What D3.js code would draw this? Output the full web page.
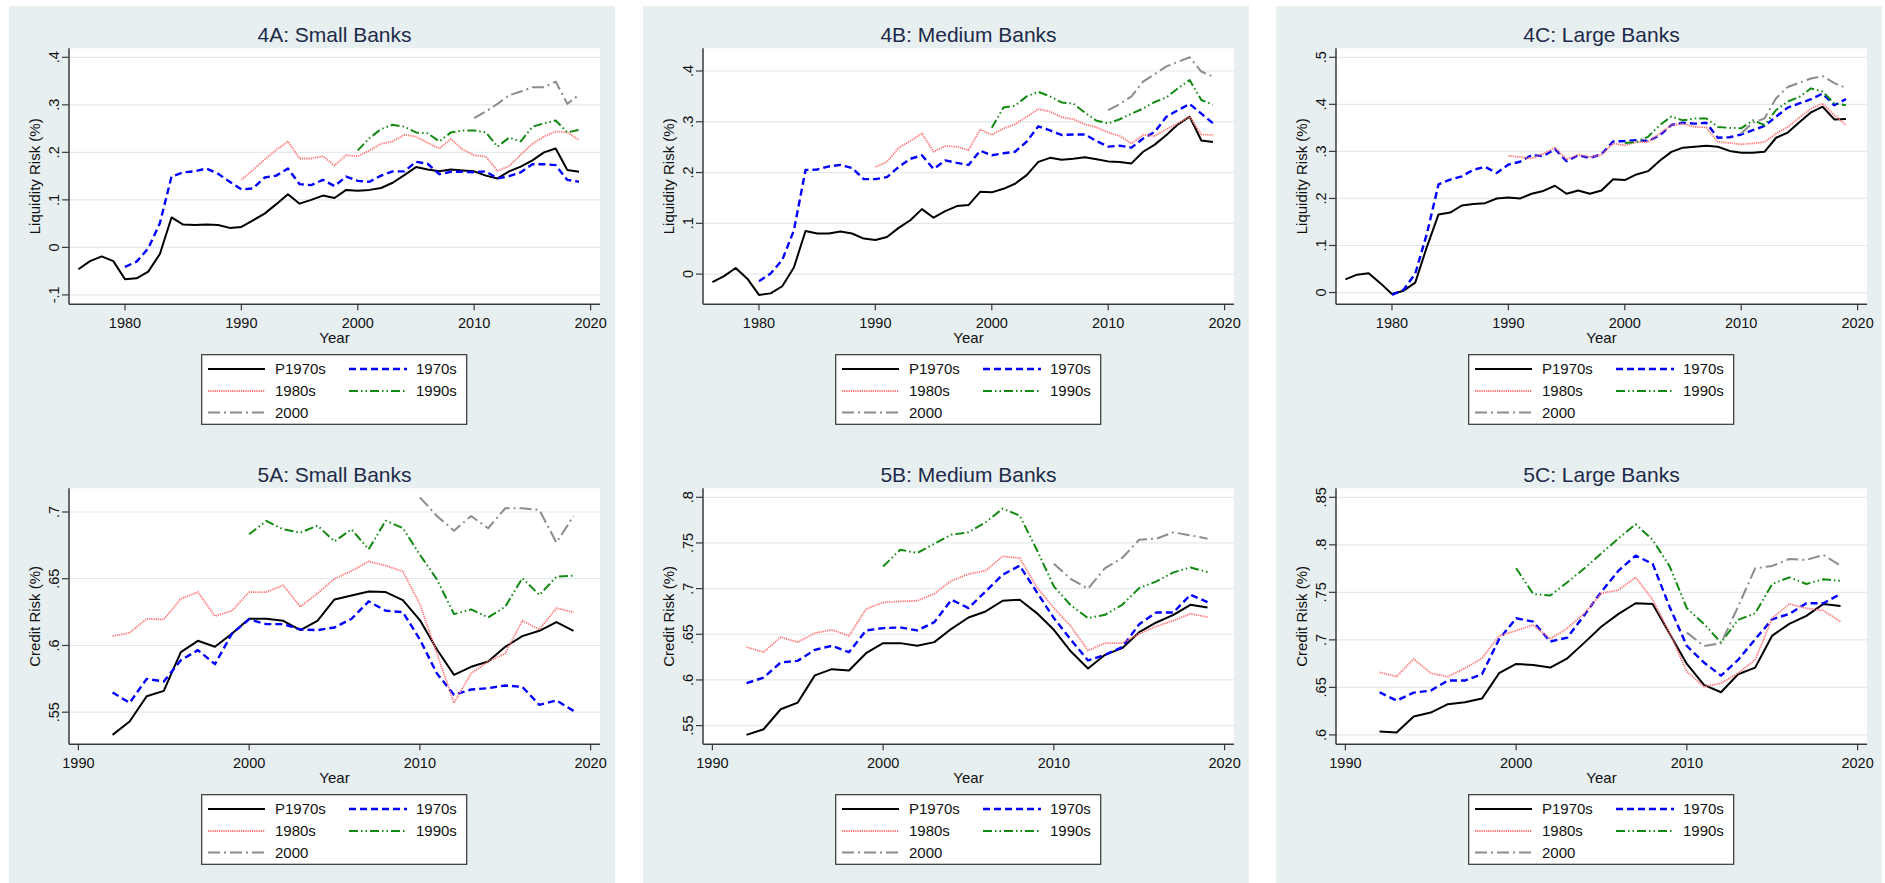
<!DOCTYPE html>
<html>
<head>
<meta charset="utf-8">
<script src="https://cdn.jsdelivr.net/npm/d3@7"></script>
<style>
  html, body { margin: 0; padding: 0; background: #ffffff; }
  svg { display: block; font-family: "Liberation Sans", Arial, Helvetica, sans-serif; }
</style>
</head>
<body>
<svg id="chart" width="1885" height="883"></svg>
<script>
// ---- Series labels and year ranges ----
const seriesNames = ["P1970s", "1970s", "1980s", "1990s", "2000"];
const liqStartYears = [1976, 1980, 1990, 2000, 2010];
const credStartYears = [1992, 1992, 1992, 2000, 2010];

// ---- Tick values ----
const liqYearTicks = [1980, 1990, 2000, 2010, 2020];
const credYearTicks = [1990, 2000, 2010, 2020];
const liqSmallTicks = [-0.1, 0, 0.1, 0.2, 0.3, 0.4];
const liqMediumTicks = [0, 0.1, 0.2, 0.3, 0.4];
const liqLargeTicks = [0, 0.1, 0.2, 0.3, 0.4, 0.5];
const credSmallTicks = [0.55, 0.6, 0.65, 0.7];
const credMediumTicks = [0.55, 0.6, 0.65, 0.7, 0.75, 0.8];
const credLargeTicks = [0.6, 0.65, 0.7, 0.75, 0.8, 0.85];

// ---- Liquidity risk, small banks ----
const liqSmallP1970s = [-0.046,-0.029,-0.019,-0.029,-0.067,-0.065,-0.051,-0.014,0.063,0.048,0.047,0.048,0.047,0.041,0.043,0.057,0.071,0.091,0.112,0.092,0.100,0.109,0.104,0.121,0.119,0.121,0.125,0.136,0.152,0.169,0.164,0.160,0.164,0.162,0.160,0.151,0.145,0.160,0.170,0.183,0.200,0.208,0.163,0.159];
const liqSmall1970s = [-0.041,-0.030,-0.002,0.051,0.149,0.158,0.160,0.166,0.155,0.138,0.122,0.124,0.147,0.151,0.166,0.133,0.131,0.142,0.129,0.149,0.140,0.138,0.151,0.160,0.160,0.180,0.176,0.154,0.159,0.159,0.158,0.160,0.145,0.150,0.158,0.175,0.175,0.173,0.142,0.138];
const liqSmall1980s = [0.142,0.163,0.185,0.205,0.223,0.187,0.187,0.192,0.172,0.194,0.192,0.204,0.218,0.223,0.237,0.233,0.220,0.208,0.228,0.206,0.194,0.191,0.161,0.171,0.195,0.218,0.233,0.244,0.242,0.226];
const liqSmall1990s = [0.204,0.230,0.249,0.258,0.254,0.242,0.240,0.223,0.242,0.246,0.246,0.242,0.212,0.231,0.223,0.254,0.261,0.267,0.242,0.247];
const liqSmall2000 = [0.272,0.286,0.302,0.320,0.328,0.337,0.337,0.349,0.302,0.321];

// ---- Liquidity risk, medium banks ----
const liqMediumP1970s = [-0.016,-0.004,0.012,-0.009,-0.041,-0.038,-0.024,0.013,0.085,0.080,0.080,0.084,0.080,0.070,0.067,0.073,0.091,0.106,0.128,0.111,0.124,0.134,0.136,0.162,0.161,0.168,0.178,0.195,0.221,0.229,0.225,0.227,0.230,0.226,0.222,0.221,0.218,0.241,0.255,0.274,0.295,0.310,0.263,0.260];
const liqMedium1970s = [-0.014,0.001,0.028,0.086,0.205,0.206,0.212,0.215,0.209,0.187,0.187,0.191,0.211,0.227,0.234,0.207,0.224,0.219,0.215,0.243,0.234,0.238,0.241,0.261,0.291,0.283,0.274,0.275,0.275,0.262,0.251,0.253,0.249,0.267,0.280,0.310,0.323,0.335,0.316,0.297];
const liqMedium1980s = [0.211,0.221,0.249,0.262,0.277,0.241,0.252,0.251,0.244,0.285,0.274,0.287,0.295,0.310,0.325,0.320,0.309,0.305,0.295,0.289,0.279,0.272,0.257,0.274,0.272,0.285,0.297,0.310,0.275,0.274];
const liqMedium1990s = [0.288,0.328,0.332,0.350,0.359,0.350,0.338,0.336,0.318,0.302,0.297,0.305,0.316,0.326,0.339,0.348,0.366,0.382,0.343,0.334];
const liqMedium2000 = [0.323,0.335,0.350,0.379,0.394,0.409,0.418,0.427,0.399,0.389];

// ---- Liquidity risk, large banks ----
const liqLargeP1970s = [0.028,0.038,0.041,0.020,-0.003,0.004,0.021,0.097,0.166,0.170,0.185,0.188,0.190,0.200,0.202,0.200,0.210,0.216,0.227,0.210,0.217,0.210,0.217,0.241,0.239,0.251,0.258,0.280,0.299,0.308,0.310,0.312,0.310,0.301,0.297,0.297,0.299,0.329,0.340,0.362,0.383,0.395,0.368,0.369];
const liqLarge1970s = [-0.005,0.006,0.040,0.125,0.230,0.240,0.247,0.261,0.267,0.254,0.272,0.278,0.292,0.290,0.305,0.279,0.292,0.286,0.294,0.321,0.322,0.324,0.322,0.334,0.356,0.361,0.359,0.361,0.329,0.330,0.336,0.345,0.354,0.374,0.393,0.402,0.411,0.423,0.398,0.411];
const liqLarge1980s = [0.291,0.288,0.285,0.295,0.308,0.283,0.293,0.288,0.293,0.317,0.313,0.320,0.320,0.338,0.356,0.359,0.352,0.351,0.320,0.318,0.315,0.317,0.320,0.338,0.352,0.372,0.391,0.402,0.377,0.356];
const liqLarge1990s = [0.318,0.320,0.331,0.356,0.374,0.366,0.370,0.370,0.352,0.350,0.349,0.366,0.356,0.388,0.406,0.416,0.434,0.427,0.402,0.398];
const liqLarge2000 = [0.338,0.361,0.370,0.413,0.437,0.446,0.455,0.460,0.445,0.435];

// ---- Credit risk, small banks ----
const credSmallP1970s = [0.533,0.543,0.562,0.566,0.595,0.6035,0.599,0.609,0.620,0.620,0.6185,0.6115,0.6185,0.6345,0.6375,0.6405,0.640,0.634,0.619,0.597,0.578,0.584,0.588,0.599,0.607,0.611,0.6175,0.611];
const credSmall1970s = [0.5648,0.557,0.575,0.573,0.589,0.5965,0.586,0.609,0.6195,0.616,0.616,0.612,0.6115,0.6135,0.620,0.633,0.626,0.625,0.6045,0.579,0.563,0.567,0.568,0.570,0.569,0.5555,0.5588,0.551];
const credSmall1980s = [0.607,0.6095,0.620,0.6195,0.635,0.640,0.622,0.626,0.640,0.640,0.645,0.629,0.639,0.650,0.6558,0.663,0.6598,0.6555,0.631,0.594,0.557,0.579,0.588,0.594,0.6185,0.612,0.628,0.6248];
const credSmall1990s = [0.6833,0.6933,0.687,0.6845,0.6898,0.678,0.687,0.672,0.6935,0.688,0.668,0.6495,0.6235,0.627,0.621,0.629,0.6505,0.6378,0.6515,0.6523];
const credSmall2000 = [0.711,0.697,0.686,0.697,0.6878,0.7028,0.7028,0.7015,0.677,0.697];

// ---- Credit risk, medium banks ----
const credMediumP1970s = [0.5398,0.546,0.5679,0.5752,0.605,0.6118,0.6103,0.6293,0.6403,0.6403,0.6374,0.6414,0.656,0.6684,0.675,0.6867,0.6878,0.6732,0.6549,0.6311,0.6125,0.6275,0.6348,0.6523,0.6629,0.6713,0.6823,0.6794];
const credMedium1970s = [0.5964,0.6026,0.6191,0.6209,0.633,0.6374,0.6304,0.6542,0.6567,0.6575,0.6542,0.6633,0.6878,0.6787,0.6969,0.7152,0.7251,0.6962,0.6677,0.6439,0.6213,0.6275,0.6359,0.6611,0.6739,0.6739,0.6933,0.6852];
const credMedium1980s = [0.6359,0.6304,0.6469,0.6414,0.6512,0.6549,0.6483,0.6776,0.6849,0.686,0.6867,0.6944,0.7086,0.7159,0.7196,0.7353,0.7335,0.7017,0.6787,0.6586,0.6322,0.6403,0.6403,0.6505,0.6586,0.6651,0.6724,0.6688];
const credMedium1990s = [0.7243,0.7426,0.739,0.7492,0.7591,0.7616,0.7726,0.7876,0.7799,0.7426,0.7024,0.6816,0.6677,0.6713,0.6823,0.7006,0.7079,0.7178,0.7232,0.7181];
const credMedium2000 = [0.7273,0.7105,0.6999,0.7225,0.7335,0.7536,0.7547,0.7616,0.7583,0.7547];

// ---- Credit risk, large banks ----
const credLargeP1970s = [0.6035,0.6025,0.6193,0.6235,0.6323,0.6344,0.6382,0.6649,0.6747,0.6736,0.6708,0.6806,0.6971,0.714,0.7273,0.7385,0.7378,0.7062,0.6747,0.6526,0.6449,0.6638,0.6708,0.7045,0.7168,0.7252,0.7378,0.7357];
const credLarge1970s = [0.6449,0.6361,0.6445,0.6466,0.6572,0.6572,0.6638,0.7006,0.7227,0.7192,0.6982,0.7024,0.7262,0.7508,0.7729,0.7886,0.7799,0.7343,0.6936,0.6761,0.6624,0.6789,0.7006,0.7217,0.7273,0.7385,0.7385,0.7483];
const credLarge1980s = [0.6659,0.6614,0.68,0.6649,0.6614,0.6701,0.6806,0.7041,0.7097,0.7157,0.701,0.7122,0.728,0.749,0.7525,0.7658,0.742,0.7069,0.6666,0.6508,0.6543,0.6649,0.6789,0.7227,0.7378,0.7332,0.7308,0.7192];
const credLarge1990s = [0.7753,0.7483,0.7466,0.7606,0.7753,0.7911,0.8069,0.8216,0.8051,0.7771,0.7332,0.7168,0.6971,0.721,0.728,0.7588,0.7658,0.7588,0.7637,0.762];
const credLarge2000 = [0.7076,0.6936,0.6964,0.735,0.7753,0.7778,0.7851,0.7841,0.7893,0.7781];

// ---- Panel definitions ----
const panels = [
  { title: "4A: Small Banks",  col: 0, row: 0, yTitle: "Liquidity Risk (%)", starts: liqStartYears, xTicks: liqYearTicks, yTicks: liqSmallTicks,
    series: [liqSmallP1970s, liqSmall1970s, liqSmall1980s, liqSmall1990s, liqSmall2000] },
  { title: "4B: Medium Banks", col: 1, row: 0, yTitle: "Liquidity Risk (%)", starts: liqStartYears, xTicks: liqYearTicks, yTicks: liqMediumTicks,
    series: [liqMediumP1970s, liqMedium1970s, liqMedium1980s, liqMedium1990s, liqMedium2000] },
  { title: "4C: Large Banks",  col: 2, row: 0, yTitle: "Liquidity Risk (%)", starts: liqStartYears, xTicks: liqYearTicks, yTicks: liqLargeTicks,
    series: [liqLargeP1970s, liqLarge1970s, liqLarge1980s, liqLarge1990s, liqLarge2000] },
  { title: "5A: Small Banks",  col: 0, row: 1, yTitle: "Credit Risk (%)", starts: credStartYears, xTicks: credYearTicks, yTicks: credSmallTicks,
    series: [credSmallP1970s, credSmall1970s, credSmall1980s, credSmall1990s, credSmall2000] },
  { title: "5B: Medium Banks", col: 1, row: 1, yTitle: "Credit Risk (%)", starts: credStartYears, xTicks: credYearTicks, yTicks: credMediumTicks,
    series: [credMediumP1970s, credMedium1970s, credMedium1980s, credMedium1990s, credMedium2000] },
  { title: "5C: Large Banks",  col: 2, row: 1, yTitle: "Credit Risk (%)", starts: credStartYears, xTicks: credYearTicks, yTicks: credLargeTicks,
    series: [credLargeP1970s, credLarge1970s, credLarge1980s, credLarge1990s, credLarge2000] }
];

// ---- Styling ----
const lineStyles = [
  { color: "#000000", width: 2.0, dash: null },
  { color: "#0000ff", width: 2.4, dash: "7,4" },
  { color: "#ff6f6f", width: 1.8, dash: "1.2,1" },
  { color: "#128a12", width: 2.0, dash: "9,3,1.5,3,1.5,3" },
  { color: "#8c8c8c", width: 2.0, dash: "12,4,2,4" }
];
const colX = [9, 643, 1276];
const rowY = [6, 446];
const rowH = [440, 437];
const panelW = 606;
const bgColor = "#e8eff1";
const gridColor = "#e2eaed";
const axisColor = "#3a3a3a";
const titleColor = "#1c2a4a";

const svg = d3.select("#chart");

function fmtTick(v) {
  let s = String(+v.toFixed(3));
  s = s.replace(/^0\./, ".").replace(/^-0\./, "-.");
  return s;
}

panels.forEach(p => {
  const L = colX[p.col], T = rowY[p.row];
  const g = svg.append("g");

  g.append("rect").attr("x", L).attr("y", T).attr("width", panelW).attr("height", rowH[p.row]).attr("fill", bgColor);

  const left = L + 60, right = L + 591, top = T + 42.3, bottom = T + 298.3;
  g.append("rect").attr("x", left).attr("y", top).attr("width", right - left).attr("height", bottom - top).attr("fill", "#ffffff");

  // Build year/value points for every series
  const pts = p.series.map((vals, i) => vals.map((v, k) => ({ year: p.starts[i] + k, value: v })));
  const all = pts.flat();
  const xDom = [Math.min(d3.min(all, d => d.year), p.xTicks[0]), Math.max(d3.max(all, d => d.year), p.xTicks[p.xTicks.length - 1])];
  const yDom = [Math.min(d3.min(all, d => d.value), p.yTicks[0]), Math.max(d3.max(all, d => d.value), p.yTicks[p.yTicks.length - 1])];
  const x = d3.scaleLinear().domain(xDom).range([left + 9.4, right - 9.4]);
  const y = d3.scaleLinear().domain(yDom).range([bottom - 9.4, top + 9]);

  // Horizontal grid lines
  g.selectAll(".grid").data(p.yTicks).enter().append("line")
    .attr("x1", left).attr("x2", right)
    .attr("y1", d => y(d)).attr("y2", d => y(d))
    .attr("stroke", gridColor).attr("stroke-width", 1.2);

  // Series lines
  const line = d3.line().x(d => x(d.year)).y(d => y(d.value));
  pts.forEach((s, i) => {
    const st = lineStyles[i];
    g.append("path").datum(s).attr("d", line)
      .attr("fill", "none").attr("stroke", st.color).attr("stroke-width", st.width)
      .attr("stroke-dasharray", st.dash).attr("stroke-linejoin", "round");
  });

  // Axes
  g.append("line").attr("x1", left).attr("x2", left).attr("y1", top).attr("y2", bottom)
    .attr("stroke", axisColor).attr("stroke-width", 1.5);
  g.append("line").attr("x1", left).attr("x2", right).attr("y1", bottom).attr("y2", bottom)
    .attr("stroke", axisColor).attr("stroke-width", 1.5);

  p.yTicks.forEach(t => {
    g.append("line").attr("x1", left - 7).attr("x2", left).attr("y1", y(t)).attr("y2", y(t))
      .attr("stroke", axisColor).attr("stroke-width", 1.2);
    g.append("text").attr("transform", `translate(${L + 50},${y(t)}) rotate(-90)`)
      .attr("text-anchor", "middle").attr("font-size", 14.5).attr("fill", "#111")
      .text(fmtTick(t));
  });
  p.xTicks.forEach(t => {
    g.append("line").attr("x1", x(t)).attr("x2", x(t)).attr("y1", bottom).attr("y2", bottom + 6)
      .attr("stroke", axisColor).attr("stroke-width", 1.2);
    g.append("text").attr("x", x(t)).attr("y", T + 322)
      .attr("text-anchor", "middle").attr("font-size", 14.5).attr("fill", "#111")
      .text(t);
  });

  // Axis titles and panel title
  g.append("text").attr("transform", `translate(${L + 31},${(top + bottom) / 2}) rotate(-90)`)
    .attr("text-anchor", "middle").attr("font-size", 15).attr("fill", "#111").text(p.yTitle);
  g.append("text").attr("x", (left + right) / 2).attr("y", T + 337)
    .attr("text-anchor", "middle").attr("font-size", 15).attr("fill", "#111").text("Year");
  g.append("text").attr("x", (left + right) / 2).attr("y", T + 36)
    .attr("text-anchor", "middle").attr("font-size", 21).attr("fill", titleColor).text(p.title);

  // Legend
  const lx = L + 192.7, ly = T + 348.7;
  g.append("rect").attr("x", lx).attr("y", ly).attr("width", 265).attr("height", 69.6)
    .attr("fill", "#ffffff").attr("stroke", "#333").attr("stroke-width", 1.2);
  const legendPos = [[0, 0], [1, 0], [0, 1], [1, 1], [0, 2]];
  const rowBase = [T + 368, T + 390, T + 411.5];
  const colSample = [[L + 199, L + 256, L + 266], [L + 340, L + 398, L + 407]];
  seriesNames.forEach((name, i) => {
    const [c, r] = legendPos[i];
    const st = lineStyles[i];
    const yy = rowBase[r] - 5;
    g.append("line").attr("x1", colSample[c][0]).attr("x2", colSample[c][1]).attr("y1", yy).attr("y2", yy)
      .attr("stroke", st.color).attr("stroke-width", st.width).attr("stroke-dasharray", st.dash);
    g.append("text").attr("x", colSample[c][2]).attr("y", rowBase[r])
      .attr("font-size", 15).attr("fill", "#111").text(name);
  });
});
</script>
</body>
</html>
